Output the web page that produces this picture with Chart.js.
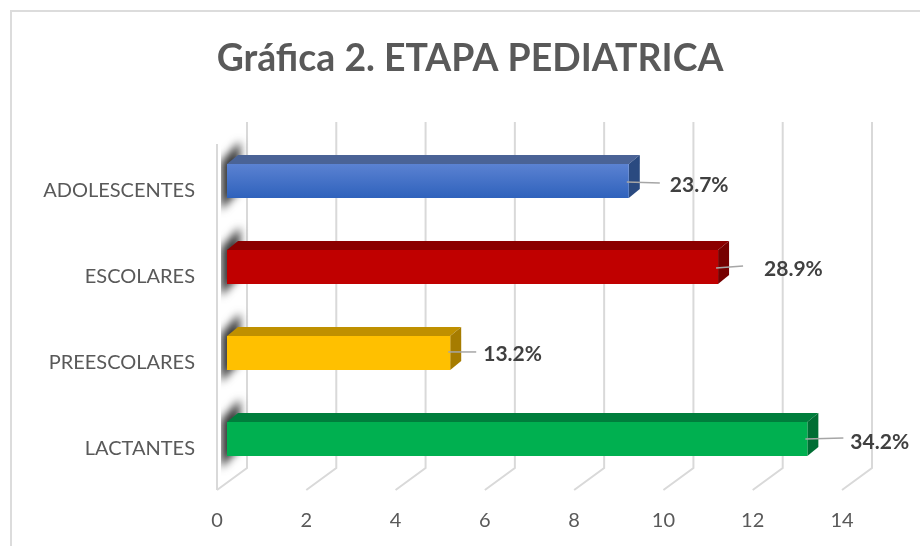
<!DOCTYPE html>
<html>
<head>
<meta charset="utf-8">
<style>
  html, body { margin: 0; padding: 0; background: #fff; }
  canvas { display: block; }
</style>
<script src="https://cdn.jsdelivr.net/npm/chart.js@4"></script>
</head>
<body>
<canvas id="myChart" width="920" height="546"></canvas>
<script>
var titleText = "Gráfica 2. ETAPA PEDIATRICA";
var categories = ["ADOLESCENTES", "ESCOLARES", "PREESCOLARES", "LACTANTES"];
var values = [9, 11, 5, 13];
var percentLabels = ["23.7%", "28.9%", "13.2%", "34.2%"];
var tickStep = 2;
var axisMax = 14;

var frontColors = ["#3f70c8", "#c00000", "#ffc000", "#00b050"];
var topColors = ["#4a6396", "#8b0000", "#bf9000", "#007e3c"];
var sideColors = ["#2a4a80", "#760000", "#a67c00", "#006e34"];

// 3d look, measured on the picture
var shiftX = 10, shiftY = -10;   // bars sit a bit inside the floor
var depthX = 11, depthY = 9;     // depth of a bar
var wallX = 30, wallY = 22;      // depth of the floor
var titleShift = 39;             // title is not centred on the page

// the labels were moved by hand in the original
var labelGap = [41, 46, 33, 43];
var labelDy = [4, 2, 1, 3];
var leaderLen = [31, 25, 26, 36];
var leaderStartDy = [1, 1, -1, 0];
var leaderEndDy = [2, -1, -1, -1];

function frontFill(context) {
  var i = context.dataIndex;
  if (i !== 0) return frontColors[i];
  var chart = context.chart;
  var y = chart.scales.y ? chart.scales.y.getPixelForValue(i) : NaN;
  if (!isFinite(y)) return frontColors[i];
  var g = chart.ctx.createLinearGradient(0, y - 17, 0, y + 17);
  g.addColorStop(0, "#5b82d2");
  g.addColorStop(1, "#2f62bc");
  return g;
}

var depthPlugin = {
  id: "depth",
  afterLayout: function (chart) {
    chart.titleBlock.left += titleShift;
    chart.titleBlock.right += titleShift;
  },
  beforeDraw: function (chart) {
    var c = chart.ctx;
    c.save();
    c.strokeStyle = "#dcdcdc";
    c.lineWidth = 2;
    c.beginPath();
    c.moveTo(920, 11);
    c.lineTo(11, 11);
    c.lineTo(11, 546);
    c.stroke();
    c.restore();
  },
  beforeDatasetsDraw: function (chart) {
    var c = chart.ctx, xs = chart.scales.x, area = chart.chartArea;
    var meta = chart.getDatasetMeta(0);
    var top = area.top - 4, bottom = area.bottom - 2;

    // back grid lines with their floor part
    c.save();
    c.strokeStyle = "#d9d9d9";
    c.lineWidth = 2;
    xs.ticks.forEach(function (t) {
      var x = xs.getPixelForValue(t.value);
      c.beginPath();
      c.moveTo(x + wallX, top - wallY);
      c.lineTo(x + wallX, bottom - wallY);
      c.lineTo(x, bottom);
      if (t.value === 0) {
        c.moveTo(x, bottom);
        c.lineTo(x, top);
      }
      c.stroke();
    });

    // shadow of the bars on the wall
    var x0 = xs.getPixelForValue(0);
    meta.data.forEach(function (bar) {
      var p = bar.getProps(["y", "height"], true);
      var y1 = p.y + shiftY - p.height / 2, y2 = p.y + shiftY + p.height / 2;
      c.save();
      c.beginPath();
      c.rect(x0 + 4, y1 - 34, 28, p.height + 68);
      c.clip();
      c.filter = "blur(4px)";
      c.fillStyle = "#383838";
      c.beginPath();
      c.moveTo(x0 + 4, y1 - 2);
      c.lineTo(x0 + 23, y1 - 23);
      c.lineTo(x0 + 23, y2 - 8);
      c.lineTo(x0 + 4, y2 + 12);
      c.closePath();
      c.fill();
      c.restore();
    });
    c.restore();

    // top and side faces, then the bars come on top
    c.save();
    c.translate(shiftX, shiftY);
    meta.data.forEach(function (bar, i) {
      var p = bar.getProps(["x", "y", "base", "height"], true);
      var y1 = p.y - p.height / 2, y2 = p.y + p.height / 2;
      c.fillStyle = topColors[i];
      c.beginPath();
      c.moveTo(p.base, y1);
      c.lineTo(p.base + depthX, y1 - depthY);
      c.lineTo(p.x + depthX, y1 - depthY);
      c.lineTo(p.x, y1);
      c.closePath();
      c.fill();
      c.fillStyle = sideColors[i];
      c.beginPath();
      c.moveTo(p.x, y1);
      c.lineTo(p.x + depthX, y1 - depthY);
      c.lineTo(p.x + depthX, y2 - depthY);
      c.lineTo(p.x, y2);
      c.closePath();
      c.fill();
    });
  },
  afterDatasetsDraw: function (chart) {
    var c = chart.ctx;
    c.restore();

    // percent labels with leader lines
    c.save();
    chart.getDatasetMeta(0).data.forEach(function (bar, i) {
      var endX = bar.x + shiftX, y = bar.y + shiftY;
      c.strokeStyle = "#a6a6a6";
      c.lineWidth = 1.5;
      c.beginPath();
      c.moveTo(endX - 2, y + leaderStartDy[i]);
      c.lineTo(endX + leaderLen[i], y + leaderEndDy[i]);
      c.stroke();
      c.fillStyle = "#404040";
      c.font = "bold 21px Lato";
      c.textAlign = "left";
      c.textBaseline = "middle";
      c.fillText(percentLabels[i], endX + labelGap[i], y + labelDy[i]);
    });
    c.restore();
  }
};

new Chart("myChart", {
  type: "bar",
  data: {
    labels: categories,
    datasets: [{
      data: values,
      backgroundColor: frontFill,
      borderWidth: 0,
      barPercentage: 0.395,
      categoryPercentage: 1,
      clip: false
    }]
  },
  options: {
    indexAxis: "y",
    responsive: false,
    animation: false,
    layout: { padding: { left: 20, right: 78, top: 0, bottom: 0 } },
    plugins: {
      legend: { display: false },
      tooltip: { enabled: false },
      title: {
        display: true,
        text: titleText,
        color: "#595959",
        font: { family: "Lato", size: 37.4, weight: "bold" },
        padding: { top: 36, bottom: 67 }
      }
    },
    scales: {
      x: {
        min: 0,
        max: axisMax,
        grid: { display: false },
        border: { display: false },
        ticks: {
          stepSize: tickStep,
          color: "#595959",
          font: { family: "Lato", size: 20 },
          padding: 9
        },
        afterFit: function (scale) { scale.height = 54; }
      },
      y: {
        grid: { display: false, drawTicks: false },
        border: { display: false },
        ticks: {
          color: "#595959",
          font: { family: "Lato", size: 20 },
          padding: 22
        },
        afterFit: function (scale) { scale.width = 197; }
      }
    }
  },
  plugins: [depthPlugin]
});
</script>
</body>
</html>
